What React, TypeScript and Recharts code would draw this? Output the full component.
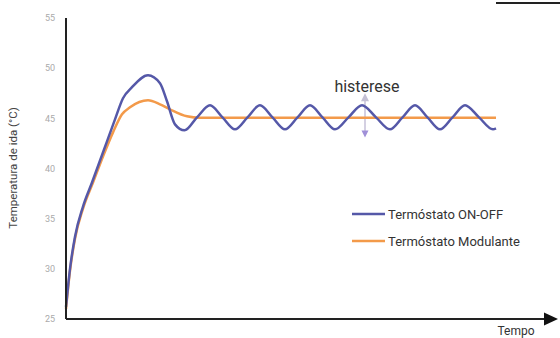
import React from 'react';
import { LineChart, Line, XAxis, YAxis, ReferenceDot, ReferenceLine, Customized } from 'recharts';

const yTicks = [25, 30, 35, 40, 45, 50, 55];

const onOffTime = [0, 0.8, 1.8, 3.4, 5.2, 8.2, 9.8, 11.4, 13.2, 16.4, 18.8, 20.2, 21.8, 23.7, 26.2, 28.8, 31.3, 33.8, 36.3, 38.8, 41.3, 43.8, 46.3, 48.8, 51.3, 53.8, 56.5, 59.2, 62, 64.8, 67.3, 69.8, 72.3, 74.8, 77.3, 79.8, 82.6, 85.4, 86];
const onOffTemp = [26.2, 30.0, 33.2, 36.2, 38.6, 42.7, 44.9, 47.0, 48.1, 49.3, 48.5, 46.7, 44.4, 43.8, 45.1, 46.3, 45.1, 43.9, 45.1, 46.3, 45.1, 43.9, 45.1, 46.3, 45.1, 43.9, 45.1, 46.3, 45.1, 43.9, 45.1, 46.3, 45.1, 43.9, 45.1, 46.3, 45.1, 43.9, 44.0];

const modTime = [0, 0.8, 1.8, 3.4, 5.4, 7.4, 9.4, 11.2, 12.8, 16.4, 18.8, 20.8, 24.2, 26.8, 86];
const modTemp = [26.0, 29.8, 33.0, 36.0, 38.6, 41.2, 43.6, 45.4, 46.1, 46.8, 46.4, 45.9, 45.2, 45.05, 45.05];

const seriesNames = ['Termóstato ON-OFF', 'Termóstato Modulante'];
const seriesColors = ['#5558a8', '#f39a4a'];

const onOffData = onOffTime.map((t, i) => ({ t, v: onOffTemp[i] }));
const modData = modTime.map((t, i) => ({ t, v: modTemp[i] }));

const FONT = 'Roboto, "DejaVu Sans", sans-serif';

const Extras = () => (
  <g>
    <line x1={496} y1={3} x2={560} y2={3} stroke="#222" strokeWidth={2} />
    <text x={13} y={168} transform="rotate(-90 13 168)" textAnchor="middle" dominantBaseline="central" fontSize={11.5} fill="#444" fontFamily={FONT}>Temperatura de ida (°C)</text>
    <text x={516} y={335} textAnchor="middle" fontSize={12} fill="#333" fontFamily={FONT}>Tempo</text>
    <text x={367} y={92} textAnchor="middle" fontSize={16} fill="#333" fontFamily={FONT}>histerese</text>
    <line x1={352} y1={214} x2={385} y2={214} stroke={seriesColors[0]} strokeWidth={2.5} />
    <text x={388} y={214} dominantBaseline="central" fontSize={13} fill="#333" fontFamily={FONT}>{seriesNames[0]}</text>
    <line x1={352} y1={241} x2={385} y2={241} stroke={seriesColors[1]} strokeWidth={2.5} />
    <text x={388} y={241} dominantBaseline="central" fontSize={13} fill="#333" fontFamily={FONT}>{seriesNames[1]}</text>
  </g>
);

const ArrowHead = (props: any) => {
  const { cx, cy } = props;
  return <path d={`M ${cx - 2} ${cy - 6.5} L ${cx + 12} ${cy} L ${cx - 2} ${cy + 6.5} Z`} fill="#111" />;
};

const UpTri = (props: any) => {
  const { cx, cy } = props;
  return <path d={`M ${cx} ${cy - 5} L ${cx + 4} ${cy + 3} L ${cx - 4} ${cy + 3} Z`} fill="#c4c0d4" />;
};

const DownBlob = (props: any) => {
  const { cx, cy } = props;
  return <path d={`M ${cx - 3.5} ${cy - 3} L ${cx + 3.5} ${cy - 3} L ${cx} ${cy + 4} Z`} fill="#a090d8" />;
};

export default function App() {
  return (
    <div style={{ position: 'absolute', left: 0, top: 0, width: 560, height: 338, background: '#fff' }}>
      <LineChart width={560} height={338} margin={{ top: 18, right: 14, bottom: 19, left: 0 }}>
        <XAxis
          type="number"
          dataKey="t"
          domain={[0, 96]}
          ticks={[]}
          tick={false}
          tickLine={false}
          height={0}
          axisLine={false}
          allowDuplicatedCategory={false}
        />
        <YAxis
          type="number"
          domain={[25, 55]}
          ticks={yTicks}
          width={66}
          tickLine={false}
          tickMargin={5}
          axisLine={{ stroke: '#222', strokeWidth: 2 }}
          tick={{ fill: '#aaa', fontSize: 9, fontFamily: FONT }}
        />
        <ReferenceLine segment={[{ x: 0, y: 25 }, { x: 96, y: 25 }]} stroke="#222" strokeWidth={2} ifOverflow="visible" />
        <ReferenceLine segment={[{ x: 59.8, y: 43.5 }, { x: 59.8, y: 46.9 }]} stroke="#d4d0e2" strokeWidth={2} ifOverflow="visible" />
        <Line data={modData} dataKey="v" type="monotone" stroke={seriesColors[1]} strokeWidth={2.5} dot={false} isAnimationActive={false} />
        <Line data={onOffData} dataKey="v" type="monotone" stroke={seriesColors[0]} strokeWidth={2.5} dot={false} isAnimationActive={false} />
        <ReferenceDot x={59.8} y={47.0} r={4} shape={UpTri} ifOverflow="visible" />
        <ReferenceDot x={59.8} y={43.5} r={4} shape={DownBlob} ifOverflow="visible" />
        <ReferenceDot x={96} y={25} r={4} shape={ArrowHead} ifOverflow="visible" />
        <Customized component={Extras} />
      </LineChart>
    </div>
  );
}
